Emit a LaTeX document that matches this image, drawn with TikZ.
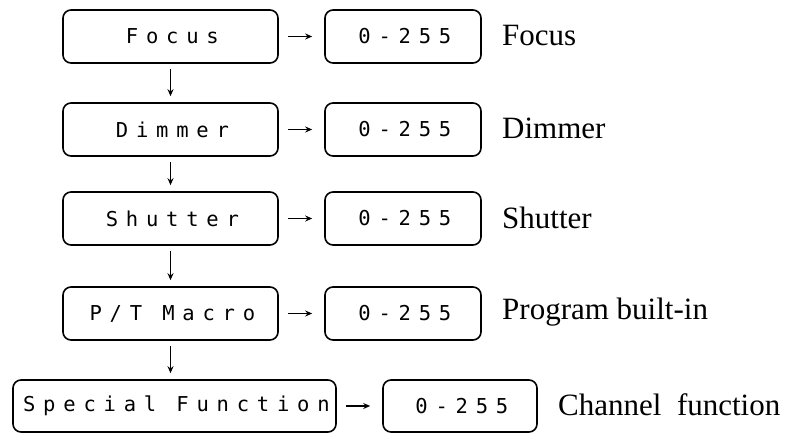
\documentclass[tikz,border=0pt]{standalone}
\usepackage{fontspec}
\setmainfont{Liberation Serif}
\newfontfamily\lcdfont[LetterSpace=38]{DejaVu Sans Mono}
\usetikzlibrary{arrows.meta}

\begin{document}
\begin{tikzpicture}[x=1pt, y=-1pt,
  fn/.style = {shape=rectangle, rounded corners=8pt, draw, line width=1.6pt,
    minimum width=215pt, minimum height=53pt, inner sep=0pt,
    font=\lcdfont\fontsize{20.5}{24}\selectfont},
  val/.style = {fn, minimum width=156pt},
  lbl/.style = {anchor=west, inner sep=0pt, font=\fontsize{31}{36}\selectfont},
  arr/.style = {-{Stealth[length=7pt, width=6pt]}, line width=1.2pt}]
  \useasboundingbox (0,0) rectangle (791,433);

  % left column
  \node[fn] (focus)   at (170.5,36.5)  {\hspace{3.8pt}Focus};
  \node[fn] (dimmer)  at (170.5,129.5) {\hspace{3.8pt}Dimmer};
  \node[fn] (shutter) at (170.5,218.5) {\hspace{3.8pt}Shutter};
  \node[fn] (macro)   at (170.5,313.5) {\hspace{3.8pt}P/T Macro};
  \node[fn, minimum width=323pt, minimum height=52pt] (special) at (174.5,406) {\hspace{3.8pt}Special Function};

  % value boxes
  \node[val] (focusval)   at (403,36.5)  {\hspace{3.8pt}0-255};
  \node[val] (dimmerval)  at (403,129.5) {\hspace{3.8pt}0-255};
  \node[val] (shutterval) at (403,218.5) {\hspace{3.8pt}0-255};
  \node[val] (macroval)   at (403,313.5) {\hspace{3.8pt}0-255};
  \node[val, minimum width=154pt, minimum height=52pt] (specialval) at (460,406) {\hspace{3.8pt}0-255};

  % labels
  \node[lbl] (focuslbl)   at (502,35.5)  {Focus};
  \node[lbl] (dimmerlbl)  at (502,128.5) {Dimmer};
  \node[lbl] (shutterlbl) at (502,217.5) {Shutter};
  \node[lbl] (macrolbl)   at (502,312.5) {Program built-in};
  \node[lbl] (speciallbl) at (558,405)   {Channel\ \ function};

  % arrows
  \foreach \a in {focus, dimmer, shutter, macro, special}
    \draw[arr, shorten <=9pt, shorten >=12pt] (\a) -- (\a val);
  \draw[arr, shorten <=5pt, shorten >=6pt] (focus) -- (dimmer);
  \draw[arr, shorten <=5pt, shorten >=6pt] (dimmer) -- (shutter);
  \draw[arr, shorten <=5pt, shorten >=6pt] (shutter) -- (macro);
  \draw[arr, shorten <=5pt, shorten >=6pt] (macro.south) -- (macro.south |- special.north);
\end{tikzpicture}
\end{document}
